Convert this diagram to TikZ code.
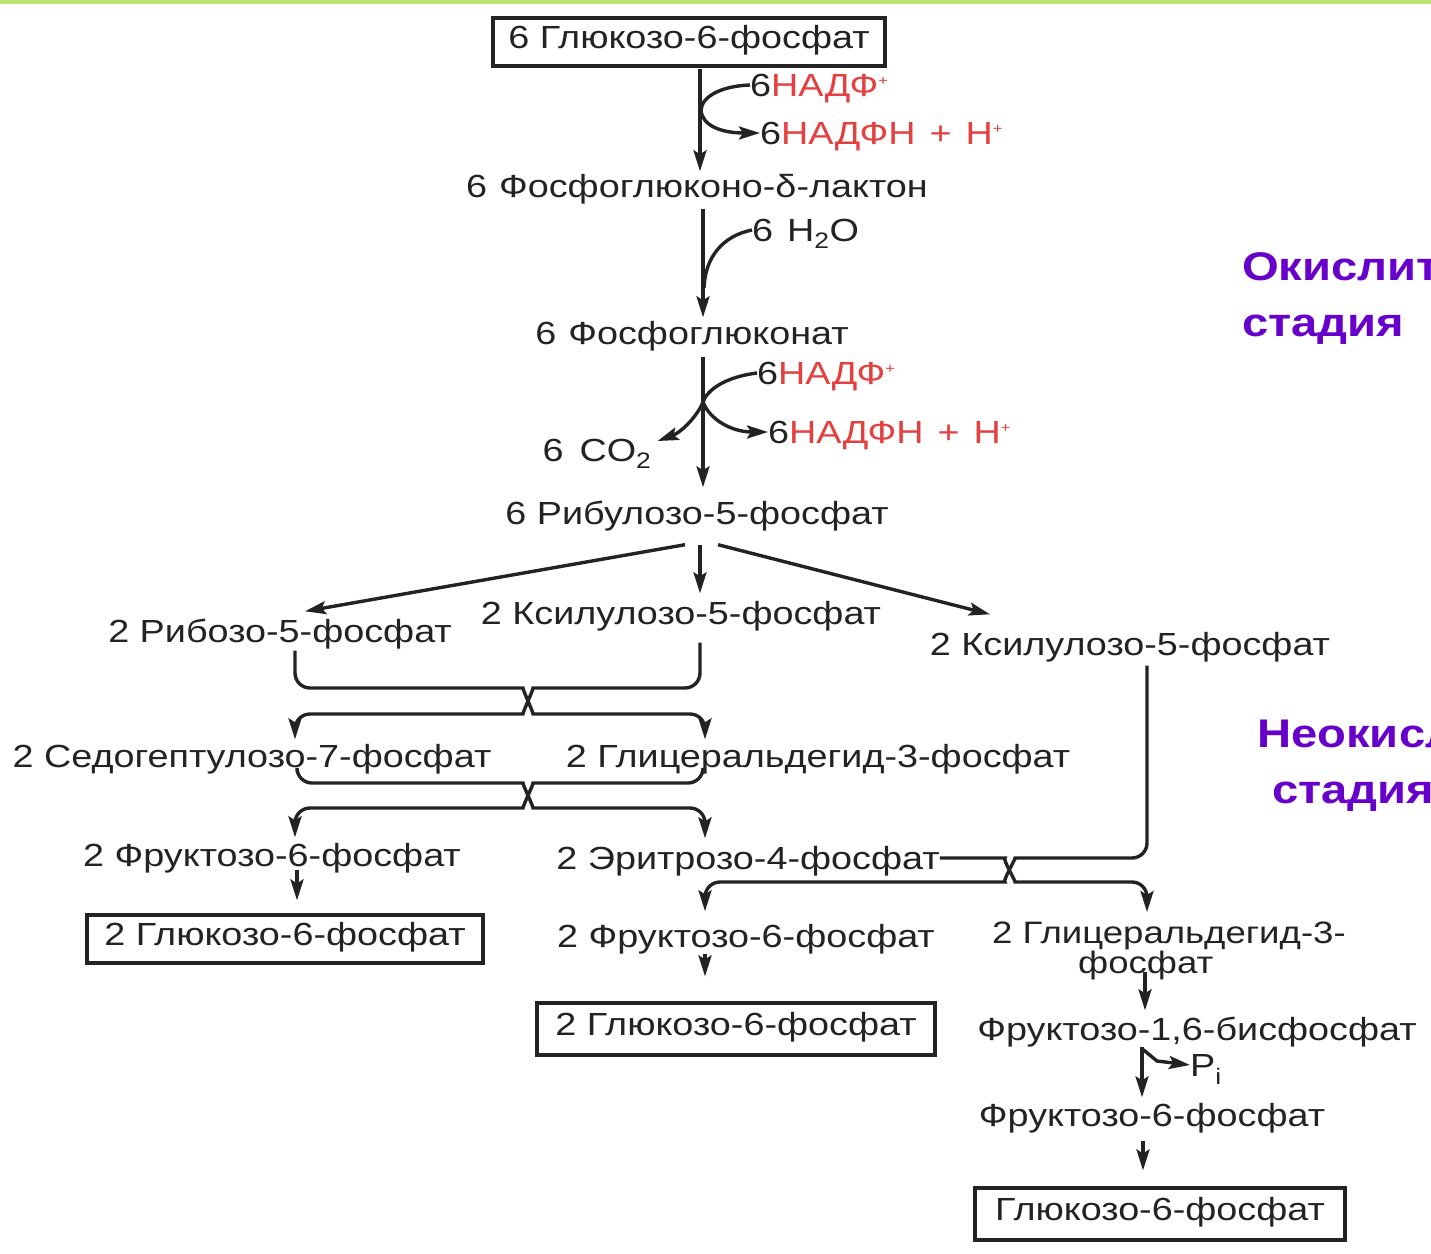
\documentclass[tikz,border=0pt]{standalone}
\usepackage{fontspec}
\setmainfont[FakeStretch=1.18]{Liberation Sans}
\usetikzlibrary{arrows.meta}
\definecolor{ink}{RGB}{35,35,35}
\definecolor{nadred}{RGB}{228,64,64}
\definecolor{stage}{RGB}{104,0,204}
\definecolor{topbar}{RGB}{186,228,112}
\newcommand{\plussup}{\raisebox{11pt}{\fontsize{14}{14}\selectfont +}}
\newcommand{\nadpox}{{\color{nadred}НАДФ\plussup}}
\newcommand{\nadpred}{{\color{nadred}НАДФН\hspace{14pt}+\hspace{14pt}Н\plussup}}
\begin{document}
\begin{tikzpicture}[x=1pt,y=-1pt,
  every node/.style={text=ink},
  lbl/.style={font=\fontsize{32}{32}\selectfont, text height=23pt, text depth=0pt, inner sep=0pt},
  boxed/.style={lbl, draw=ink, line width=3.2pt, text depth=10pt, minimum height=48pt},
  arr/.style={draw=ink, line width=3.4pt, -{Stealth[length=21pt,width=13pt,inset=4pt]}},
  ln/.style={draw=ink, line width=3.4pt},
  stagelbl/.style={font=\fontsize{40}{56}\selectfont\bfseries, text=stage, align=left, inner sep=0pt, anchor=north west}]
\path[use as bounding box, clip] (0,0) rectangle (1431,1253);
\fill[white] (0,0) rectangle (1431,1253);
\fill[topbar] (0,0) rectangle (1431,3.5);

% oxidative branch
\node[boxed, minimum width=392pt] (g6p) at (689,42) {6 Глюкозо-6-фосфат};
\node[lbl, anchor=west] (nadp1) at (750,85) {6\nadpox};
\node[lbl, anchor=west] (nadph1) at (760,133) {6\nadpred};
\node[lbl] (lact) at (697,186) {6\hspace{12pt}Фосфоглюконо-δ-лактон};
\node[lbl, anchor=west] (h2o) at (752,230) {6\hspace{14pt}H\textsubscript{2}O};
\node[lbl] (glcn) at (692,333) {6\hspace{12pt}Фосфоглюконат};
\node[lbl, anchor=west] (nadp2) at (757,373) {6\nadpox};
\node[lbl, anchor=west] (nadph2) at (768,432) {6\nadpred};
\node[lbl] (co2) at (597,450) {6\hspace{16pt}CO\textsubscript{2}};
\node[lbl] (ru5p) at (697,513) {6 Рибулозо-5-фосфат};

% non-oxidative branch
\node[lbl] (r5p) at (280,631) {2 Рибозо-5-фосфат};
\node[lbl] (xu5pA) at (681,613) {2 Ксилулозо-5-фосфат};
\node[lbl] (xu5pB) at (1130,644) {2 Ксилулозо-5-фосфат};
\node[lbl] (s7p) at (252,756) {2 Седогептулозо-7-фосфат};
\node[lbl] (gap1) at (818,756) {2 Глицеральдегид-3-фосфат};
\node[lbl] (f6pL) at (272,855) {2 Фруктозо-6-фосфат};
\node[lbl] (e4p) at (748,858) {2 Эритрозо-4-фосфат};
\node[boxed, minimum width=396pt] (g6pL) at (285,939) {2 Глюкозо-6-фосфат};
\node[lbl] (f6pM) at (746,936) {2 Фруктозо-6-фосфат};
\node[boxed, minimum width=398pt, minimum height=52pt] (g6pM) at (736,1029) {2 Глюкозо-6-фосфат};
\node[inner sep=0pt, anchor=north west, align=left, font=\fontsize{31}{22}\selectfont] (gapR) at (992,922) {2 Глицеральдегид-3-\\\hspace*{86pt}фосфат};
\node[lbl] (f16bp) at (1197,1029) {Фруктозо-1,6-бисфосфат};
\node[lbl, anchor=west] (pi) at (1190,1065) {P\textsubscript{i}};
\node[lbl] (f6pR) at (1152,1115) {Фруктозо-6-фосфат};
\node[boxed, minimum width=370pt, minimum height=52pt] (g6pR) at (1160,1214) {Глюкозо-6-фосфат};

% stage captions, running off the right edge
\node[stagelbl] (ox) at (1242,252) {Окислительная\\стадия};
\node[stagelbl] (nonox) at (1257,720) {Неокислительная\\\hspace*{15pt}стадия};

% glucose-6-phosphate dehydrogenase step
\coordinate (j1) at (701,110);
\draw[arr] ([shift={(11,1)}]g6p.south) -- ([shift={(3,-3)}]lact.north);
\draw[ln] (nadp1.west) .. controls (722,86) and (702,96) .. (j1);
\draw[arr] (j1) .. controls (702,126) and (722,133) .. (nadph1.west);

% lactonase step
\coordinate (j2) at (704,288);
\draw[arr] ([shift={(6,11)}]lact.south) -- ([shift={(11,-4)}]glcn.north);
\draw[ln] (h2o.west) .. controls (722,236) and (705,258) .. (j2);

% 6-phosphogluconate dehydrogenase step
\coordinate (j3) at (703,402);
\draw[arr] ([shift={(11,12)}]glcn.south) -- ([shift={(6,-14)}]ru5p.north);
\draw[ln] (nadp2.west) .. controls (725,377) and (707,390) .. (j3);
\draw[arr] (j3) .. controls (710,420) and (732,432) .. (nadph2.west);
\draw[arr] (j3) .. controls (698,415) and (682,432) .. ([shift={(6,-9)}]co2.east);

% ribulose-5-phosphate splits
\draw[arr] ([shift={(-12,20)}]ru5p.south) -- ([shift={(25,-8)}]r5p.north);
\draw[arr] ([shift={(3,20)}]ru5p.south) -- ([shift={(19,-8)}]xu5pA.north);
\draw[arr] ([shift={(21,20)}]ru5p.south) -- ([shift={(-140,-18)}]xu5pB.north);

% transketolase: crossing
\draw[arr, rounded corners=15] ([shift={(15,8)}]r5p.south) -- (295,688) -- (508,688)
  .. controls (522,688) and (534,714) .. (548,714) -- (705,714) -- ([shift={(-113,-5)}]gap1.north);
\draw[arr, rounded corners=15] ([shift={(19,18)}]xu5pA.south) -- (700,688) -- (548,688)
  .. controls (534,688) and (522,714) .. (508,714) -- (295,714) -- ([shift={(43,-5)}]s7p.north);

% transaldolase: crossing
\draw[arr, rounded corners=15] ([shift={(45,4)}]s7p.south) -- (297,783) -- (508,783)
  .. controls (522,783) and (534,808) .. (548,808) -- (705,808) -- ([shift={(-43,-8)}]e4p.north);
\draw[arr, rounded corners=15] ([shift={(-115,4)}]gap1.south) -- (703,783) -- (548,783)
  .. controls (534,783) and (522,808) .. (508,808) -- (295,808) -- ([shift={(23,-6)}]f6pL.north);

% second transketolase: crossing
\draw[arr, rounded corners=15] (e4p.east) -- (990,858)
  .. controls (1002,858) and (1016,882) .. (1030,882) -- (1147,882) -- ([shift={(155,-10)}]gapR.north west);
\draw[arr, rounded corners=15] ([shift={(17,10)}]xu5pB.south) -- (1147,858) -- (1030,858)
  .. controls (1016,858) and (1002,882) .. (990,882) -- (705,882) -- ([shift={(-41,-13)}]f6pM.north);

% isomerisation to glucose-6-phosphate
\draw[arr] ([shift={(25,3)}]f6pL.south) -- ([shift={(12,-13)}]g6pL.north);
\draw[arr] ([shift={(-41,6)}]f6pM.south) -- ([shift={(-31,-25)}]g6pM.north);

% gluconeogenic tail
\coordinate (kpi) at (1157,1061);
\draw[arr] ([shift={(153,50)}]gapR.north west) -- ([shift={(-52,-7)}]f16bp.north);
\draw[arr] ([shift={(-55,6)}]f16bp.south) -- ([shift={(-10,-6)}]f6pR.north);
\draw[arr] ([shift={(-55,8)}]f16bp.south) -- (kpi) -- (pi.west);
\draw[arr] ([shift={(-9,14)}]f6pR.south) -- ([shift={(-17,-16)}]g6pR.north);
\end{tikzpicture}
\end{document}
